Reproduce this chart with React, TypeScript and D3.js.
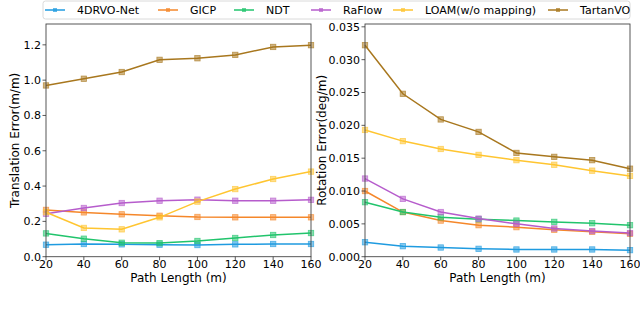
import React from "react";
import * as d3 from "d3";

const pathLengths = [20, 40, 60, 80, 100, 120, 140, 160];
const methods = ["4DRVO-Net", "GICP", "NDT", "RaFlow", "LOAM(w/o mapping)", "TartanVO"];
const colors = ["#1f9be0", "#f5872a", "#21c46c", "#b65ccc", "#ffc530", "#a8771e"];

const transDRVO = [0.068, 0.072, 0.07, 0.068, 0.066, 0.07, 0.072, 0.072];
const transGICP = [0.265, 0.251, 0.24, 0.232, 0.225, 0.223, 0.223, 0.223];
const transNDT = [0.132, 0.102, 0.079, 0.077, 0.089, 0.106, 0.123, 0.134];
const transRaFlow = [0.243, 0.276, 0.304, 0.317, 0.323, 0.317, 0.317, 0.322];
const transLOAM = [0.252, 0.163, 0.155, 0.223, 0.312, 0.383, 0.44, 0.482];
const transTartan = [0.97, 1.008, 1.046, 1.115, 1.124, 1.143, 1.188, 1.198];

const rotDRVO = [0.0022, 0.0016, 0.0014, 0.0012, 0.0011, 0.0011, 0.0011, 0.001];
const rotGICP = [0.01, 0.0068, 0.0055, 0.0048, 0.0045, 0.0041, 0.0038, 0.0035];
const rotNDT = [0.0083, 0.0068, 0.006, 0.0057, 0.0055, 0.0053, 0.0051, 0.0048];
const rotRaFlow = [0.0119, 0.0088, 0.0068, 0.0058, 0.005, 0.0043, 0.0039, 0.0036];
const rotLOAM = [0.0193, 0.0176, 0.0164, 0.0155, 0.0147, 0.014, 0.0131, 0.0123];
const rotTartan = [0.0322, 0.0248, 0.0209, 0.019, 0.0158, 0.0152, 0.0147, 0.0134];

const transTicks = [0, 0.2, 0.4, 0.6, 0.8, 1.0, 1.2];
const rotTicks = [0, 0.005, 0.01, 0.015, 0.02, 0.025, 0.03, 0.035];
const xTicks = [20, 40, 60, 80, 100, 120, 140, 160];

const transSeries = [transDRVO, transGICP, transNDT, transRaFlow, transLOAM, transTartan];
const rotSeries = [rotDRVO, rotGICP, rotNDT, rotRaFlow, rotLOAM, rotTartan];

const FONT = "DejaVu Sans";

function Panel({ x0, x1, series, yMax, ticks, fmt, ylabel, ylabelX }: any) {
  const top = 24;
  const bottom = 256.7;
  const x = d3.scaleLinear().domain([20, 160]).range([x0, x1]);
  const y = d3.scaleLinear().domain([0, yMax]).range([bottom, top]);
  const line = d3
    .line<number>()
    .x((_, i) => x(pathLengths[i]))
    .y((d) => y(d));
  return (
    <g>
      {series.map((s: number[], k: number) => (
        <g key={k}>
          <path d={line(s) || ""} fill="none" stroke={colors[k]} strokeWidth={1.5} />
          {s.map((v, i) => (
            <rect
              key={i}
              x={x(pathLengths[i]) - 2.7}
              y={y(v) - 2.7}
              width={5.4}
              height={5.4}
              fill={colors[k]}
              fillOpacity={0.55}
              stroke={colors[k]}
              strokeOpacity={0.7}
              strokeWidth={0.8}
            />
          ))}
        </g>
      ))}
      <rect x={x0} y={top} width={x1 - x0} height={bottom - top} fill="none" stroke="#444" strokeWidth={0.9} />
      {ticks.map((t: number) => (
        <g key={t}>
          <line x1={x0 - 3.5} x2={x0} y1={y(t)} y2={y(t)} stroke="#333" strokeWidth={0.8} />
          <text x={x0 - 5} y={y(t)} dy="0.36em" textAnchor="end" fontSize={11} fontFamily={FONT} fill="#000">
            {fmt(t)}
          </text>
        </g>
      ))}
      {xTicks.map((t) => (
        <g key={t}>
          <line x1={x(t)} x2={x(t)} y1={bottom} y2={bottom + 3.5} stroke="#333" strokeWidth={0.8} />
          <text x={x(t)} y={268} textAnchor="middle" fontSize={11} fontFamily={FONT} fill="#000">
            {t}
          </text>
        </g>
      ))}
      <text x={(x0 + x1) / 2} y={282} textAnchor="middle" fontSize={12} fontFamily={FONT} fill="#000">
        Path Length (m)
      </text>
      <text
        transform={`translate(${ylabelX},${(top + bottom) / 2}) rotate(-90)`}
        textAnchor="middle"
        fontSize={12}
        fontFamily={FONT}
        fill="#000"
      >
        {ylabel}
      </text>
    </g>
  );
}

export default function App() {
  const legendX = [45, 158, 234, 311, 393, 548];
  return (
    <svg width={640} height={319} style={{ position: "absolute", left: 0, top: 0, background: "#fff" }}>
      <Panel
        x0={46}
        x1={311}
        series={transSeries}
        yMax={1.318}
        ticks={transTicks}
        fmt={(t: number) => t.toFixed(1)}
        ylabel="Translation Error(m/m)"
        ylabelX={19}
      />
      <Panel
        x0={365}
        x1={630}
        series={rotSeries}
        yMax={0.03543}
        ticks={rotTicks}
        fmt={(t: number) => t.toFixed(3)}
        ylabel="Rotation Error(deg/m)"
        ylabelX={326}
      />
      <rect x={43} y={1} width={587} height={18} rx={2.5} fill="#fff" fillOpacity={0.85} stroke="#d0d0d0" strokeWidth={0.8} />
      {methods.map((m, k) => (
        <g key={m}>
          <line x1={legendX[k]} x2={legendX[k] + 20} y1={10} y2={10} stroke={colors[k]} strokeWidth={1.5} />
          <rect x={legendX[k] + 8} y={8} width={4} height={4} fill={colors[k]} fillOpacity={0.7} />
          <text x={legendX[k] + 32} y={10} dy="0.36em" fontSize={11} fontFamily={FONT} fill="#000">
            {m}
          </text>
        </g>
      ))}
    </svg>
  );
}
